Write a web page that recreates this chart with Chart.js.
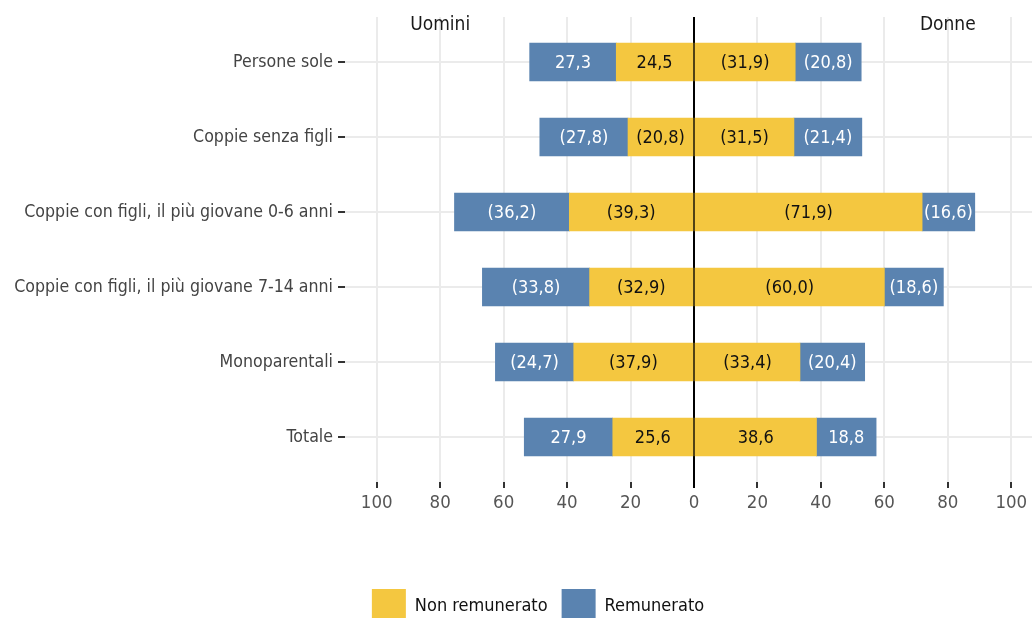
<!DOCTYPE html>
<html>
<head>
<meta charset="utf-8">
<script src="https://cdn.jsdelivr.net/npm/chart.js@4/dist/chart.umd.min.js"></script>
<style>
  html, body { margin: 0; padding: 0; background: #ffffff; overflow: hidden; }
  #wrap { width: 1076px; height: 633px; }
</style>
</head>
<body>
<div id="wrap"><canvas id="c" width="1076" height="633"></canvas></div>
<script>
// ---- data ----
const categories = [
  "Persone sole",
  "Coppie senza figli",
  "Coppie con figli, il più giovane 0-6 anni",
  "Coppie con figli, il più giovane 7-14 anni",
  "Monoparentali",
  "Totale"
];
const menUnpaid   = [24.5, 20.8, 39.3, 32.9, 37.9, 25.6];
const menPaid     = [27.3, 27.8, 36.2, 33.8, 24.7, 27.9];
const womenUnpaid = [31.9, 31.5, 71.9, 60.0, 33.4, 38.6];
const womenPaid   = [20.8, 21.4, 16.6, 18.6, 20.4, 18.8];
const menInParens   = [false, true, true, true, true, false];
const womenInParens = [true, true, true, true, true, false];
const xTickValues = [-100, -80, -60, -40, -20, 0, 20, 40, 60, 80, 100];
const seriesNames = ["Non remunerato", "Remunerato"];
const groupNames = ["Uomini", "Donne"];
const groupAt = [-80, 80];

const YELLOW = "#F4C740";
const BLUE = "#5A83B0";
const FONT = "'Liberation Sans Narrow', 'DejaVu Sans Condensed', 'Roboto', sans-serif";

function fmt(v, paren) {
  const s = Math.abs(v).toFixed(1).replace(".", ",");
  return paren ? "(" + s + ")" : s;
}
function pts(arr, sign) { return arr.map((v, i) => ({ x: sign * v, y: i })); }

const datasets = [
  { label: seriesNames[0], data: pts(menUnpaid, -1), backgroundColor: YELLOW, parens: menInParens, txt: "#111" },
  { label: seriesNames[1], data: pts(menPaid, -1), backgroundColor: BLUE, parens: menInParens, txt: "#ffffff" },
  { label: seriesNames[0] + " D", data: pts(womenUnpaid, 1), backgroundColor: YELLOW, parens: womenInParens, txt: "#111" },
  { label: seriesNames[1] + " D", data: pts(womenPaid, 1), backgroundColor: BLUE, parens: womenInParens, txt: "#ffffff" }
].map(d => Object.assign(d, { stack: "s", borderWidth: 0, barThickness: 37.6 }));

const labelPlugin = {
  id: "barLabels",
  afterDatasetsDraw(chart) {
    const ctx = chart.ctx;
    ctx.save();
    ctx.font = "18px " + FONT;
    ctx.textAlign = "center";
    ctx.textBaseline = "middle";
    chart.data.datasets.forEach((ds, di) => {
      const meta = chart.getDatasetMeta(di);
      meta.data.forEach((bar, i) => {
        ctx.fillStyle = ds.txt;
        const cx = (bar.x + bar.base) / 2;
        ctx.fillText(fmt(ds.data[i].x, ds.parens[i]), cx, bar.y + 1);
      });
    });
    // group titles
    const xs = chart.scales.x;
    ctx.font = "19px " + FONT;
    ctx.fillStyle = "#1a1a1a";
    groupNames.forEach((g, k) => {
      ctx.fillText(g, xs.getPixelForValue(groupAt[k]), chart.chartArea.top + 8);
    });
    ctx.restore();
  }
};

new Chart(document.getElementById("c"), {
  type: "bar",
  data: { datasets },
  options: {
    indexAxis: "y",
    responsive: false,
    animation: false,
    devicePixelRatio: 1,
    layout: { padding: { top: 17, left: 0, right: 0, bottom: 0 } },
    scales: {
      x: {
        type: "linear",
        stacked: true,
        min: -110,
        max: 120.4,
        afterBuildTicks: s => { s.ticks = xTickValues.map(v => ({ value: v })); },
        afterFit: s => { s.height = 93; },
        border: { display: false },
        grid: {
          color: c => (c.tick && c.tick.value === 0) ? "#000000" : "#ebebeb",
          lineWidth: 2,
          tickLength: 6,
          tickColor: c => (c.tick && c.tick.value === 0) ? "#000000" : "#333333",
          tickWidth: 2,
          z: 0
        },
        ticks: {
          callback: v => String(Math.abs(v)),
          color: "#555555",
          font: { family: FONT, size: 18.5 },
          padding: 4,
          maxRotation: 0,
          autoSkip: false
        }
      },
      y: {
        type: "linear",
        stacked: true,
        reverse: true,
        offset: false,
        min: -0.6,
        max: 5.6,
        afterBuildTicks: s => { s.ticks = categories.map((_, i) => ({ value: i })); },
        afterFit: s => { s.width = 345; },
        border: { display: false },
        grid: {
          offset: false,
          color: "#ebebeb",
          lineWidth: 2,
          tickLength: 7,
          tickColor: "#333333",
          tickWidth: 2
        },
        ticks: {
          callback: v => categories[v],
          color: "#444444",
          font: { family: FONT, size: 17.6 },
          padding: 5,
          autoSkip: false
        }
      }
    },
    plugins: {
      legend: {
        position: "bottom",
        labels: {
          filter: item => item.datasetIndex < 2,
          boxWidth: 34,
          boxHeight: 34,
          padding: 14,
          color: "#111111",
          font: { family: FONT, size: 18 }
        }
      },
      tooltip: { enabled: false }
    }
  },
  plugins: [labelPlugin]
});
</script>
</body>
</html>
